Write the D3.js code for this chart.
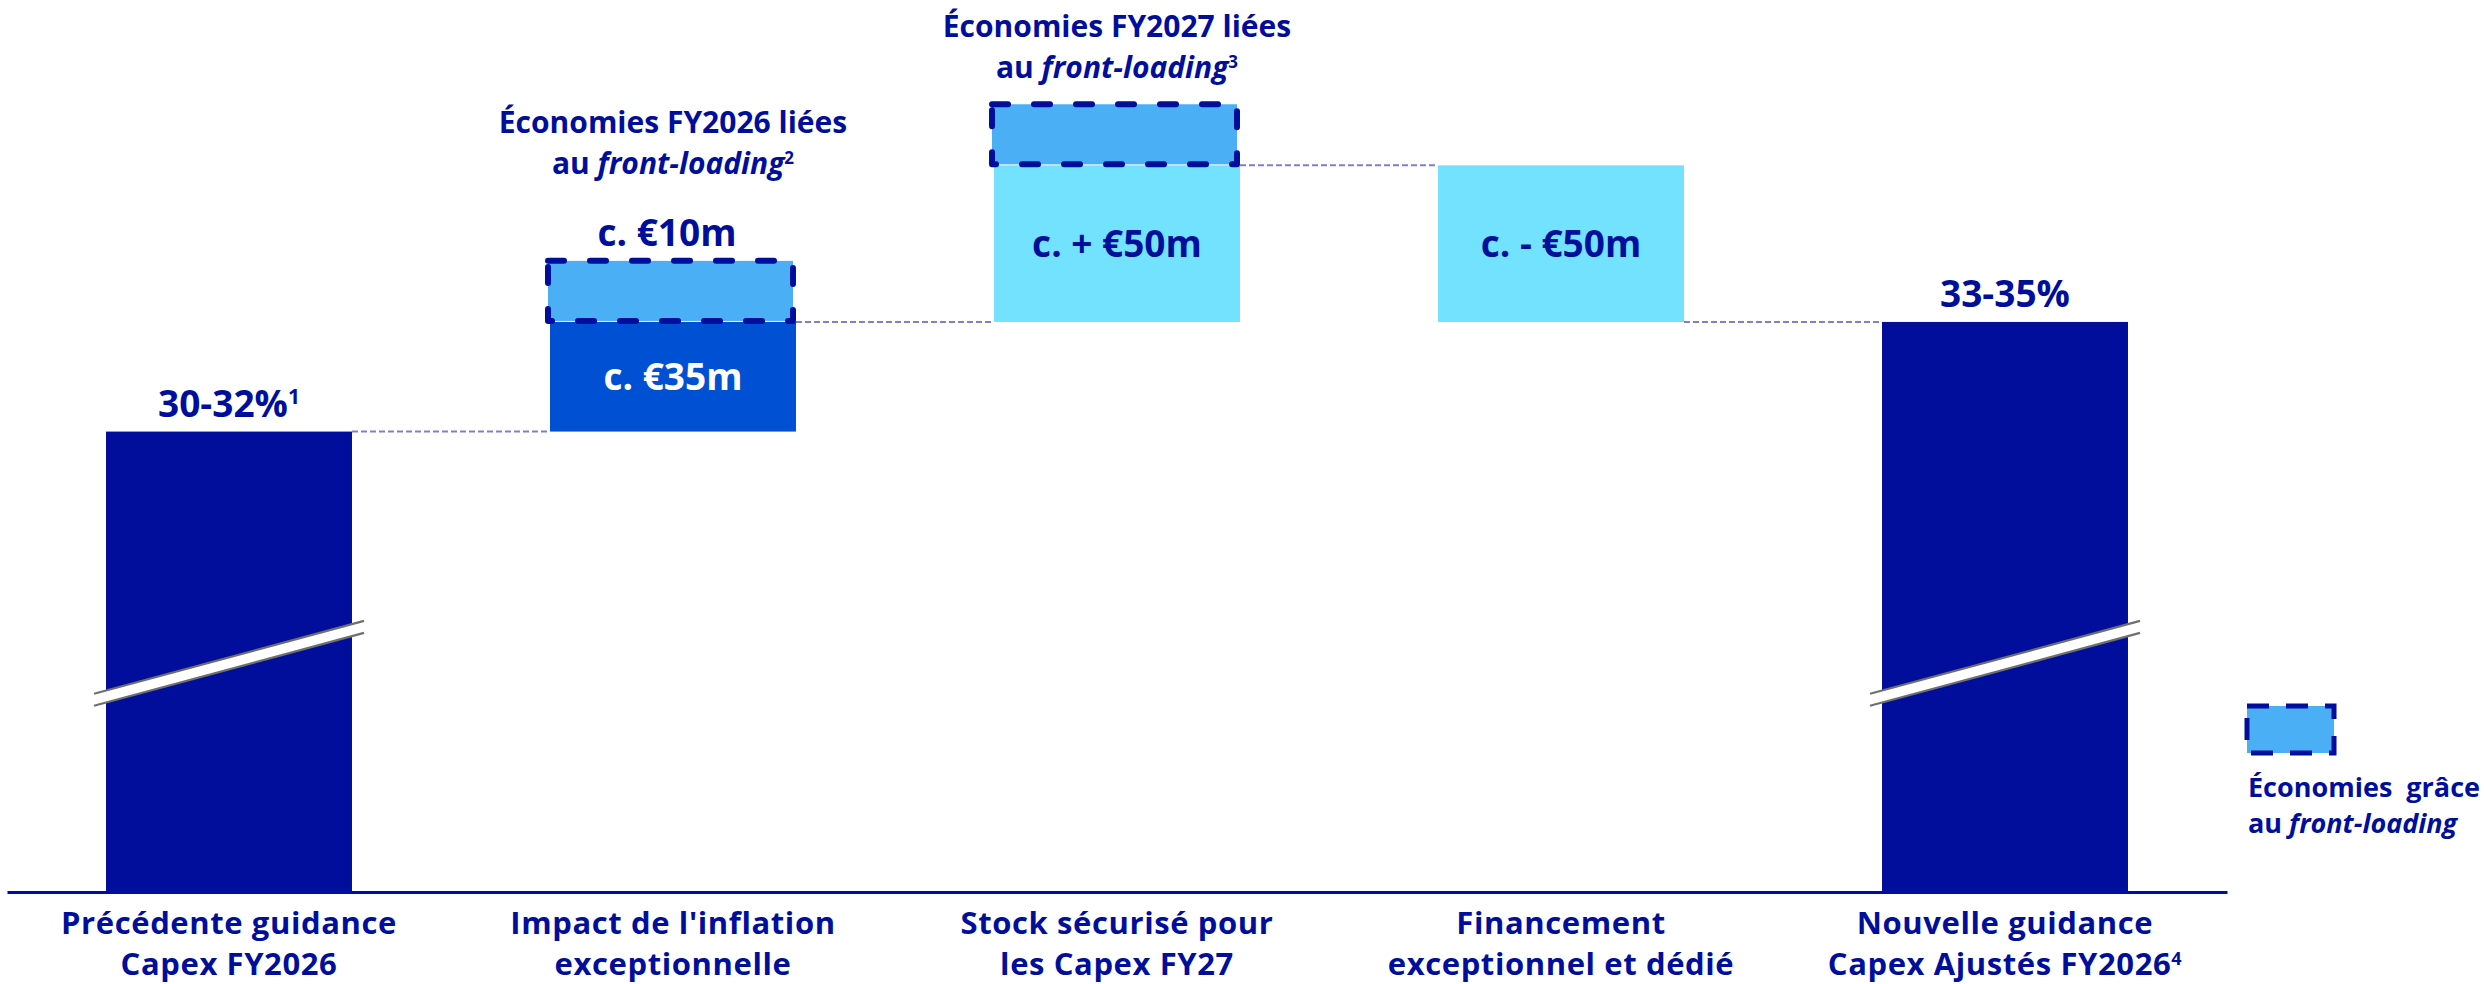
<!DOCTYPE html>
<html>
<head>
<meta charset="utf-8">
<script src="https://cdn.jsdelivr.net/npm/d3@7"></script>
<style>
  html, body { margin: 0; padding: 0; background: #ffffff; }
  svg { display: block; }
  text { font-family: "Open Sans", "Noto Sans", sans-serif; font-weight: 700; white-space: pre; }
</style>
</head>
<body>
<svg id="chart"></svg>
<script>
// ---------------- DATA ----------------
const categories = ["prev", "inflation", "stock", "financing", "new"];
const categoryLines = [
  [[{t: "Précédente guidance"}], [{t: "Capex FY2026"}]],
  [[{t: "Impact de l'inflation"}], [{t: "exceptionnelle"}]],
  [[{t: "Stock sécurisé pour"}], [{t: "les Capex FY27"}]],
  [[{t: "Financement"}], [{t: "exceptionnel et dédié"}]],
  [[{t: "Nouvelle guidance"}], [{t: "Capex Ajustés FY2026"}, {t: "4", s: true}]]
];
const stepTypes = ["total", "delta", "delta", "delta", "total"];
// displayed heights (broken axis; €m-equivalent units)
const stepValues = [147, 35, 50, -50, 182];
const breakValue = 73; // level of the axis-break marks on the total bars
const valueLabels = [
  [{t: "30-32%"}, {t: "1", s: true}],
  [{t: "c. €35m"}],
  [{t: "c. + €50m"}],
  [{t: "c. - €50m"}],
  [{t: "33-35%"}]
];

const savingsCategories = ["inflation", "stock"];
const savingsValues = [19.5, 19.5];
const savingsLabels = ["c. €10m", ""];
const savingsTitles = [
  [[{t: "Économies FY2026 liées"}], [{t: "au "}, {t: "front-loading", i: true}, {t: "2", s: true}]],
  [[{t: "Économies FY2027 liées"}], [{t: "au "}, {t: "front-loading", i: true}, {t: "3", s: true}]]
];
const legendLines = [
  [{t: "Économies  grâce"}],
  [{t: "au "}, {t: "front-loading", i: true}]
];

// ---------------- STYLE ----------------
const W = 2484, H = 984;
const NAVY = "#000F9B", MID = "#0050D4", CYAN = "#73E2FF", SAVE = "#4AAFF5", CONN = "#7E7ED2";
const barColors = [NAVY, MID, CYAN, CYAN, NAVY];
const innerTextColors = [NAVY, "#ffffff", NAVY, NAVY, NAVY];
const VAL_FS = 37, AX_FS = 31, TITLE_FS = 30, LEG_FS = 27;

const svg = d3.select("#chart").attr("width", W).attr("height", H);

const x = d3.scaleBand().domain(categories).range([7, 2227])
  .paddingInner(0.446).paddingOuter(0.223);
const y = d3.scaleLinear().domain([0, 280]).range([892, 15]);
const bw = x.bandwidth();

// compute waterfall
let cum = 0;
const bars = categories.map((c, i) => {
  let a, b;
  if (stepTypes[i] === "total") { a = 0; b = stepValues[i]; cum = stepValues[i]; }
  else { a = cum; b = cum + stepValues[i]; cum = b; }
  return {cat: c, i, lo: Math.min(a, b), hi: Math.max(a, b), end: cum, type: stepTypes[i]};
});

// rich text helpers
function rich(sel, segs, size) {
  segs.forEach(s => {
    const ts = sel.append("tspan").text(s.t);
    if (s.i) ts.attr("font-style", "italic");
    if (s.s) ts.attr("font-size", Math.round(size * 0.58)).attr("dy", -size * 0.33);
  });
  return sel;
}
// multi-line text in one text element (lines as tspans)
function multiline(sel, lines, size, x0, lineH) {
  let shift = 0;
  lines.forEach((segs, li) => {
    segs.forEach((s, si) => {
      const ts = sel.append("tspan").text(s.t);
      if (si === 0) {
        ts.attr("x", x0);
        if (li > 0) ts.attr("dy", lineH - shift);
        shift = 0;
      }
      if (s.i) ts.attr("font-style", "italic");
      if (s.s) {
        ts.attr("font-size", Math.round(size * 0.58)).attr("dy", -size * 0.33);
        shift = -size * 0.33;
      }
    });
  });
  return sel;
}

// connectors
const conn = svg.append("g");
bars.slice(0, -1).forEach((d, k) => {
  const nxt = bars[k + 1];
  conn.append("line")
    .attr("x1", x(d.cat) + bw).attr("x2", x(nxt.cat))
    .attr("y1", y(d.end)).attr("y2", y(d.end))
    .attr("stroke", CONN).attr("stroke-width", 2).attr("stroke-dasharray", "6,3");
});

// bars
svg.append("g").selectAll("rect").data(bars).join("rect")
  .attr("x", d => x(d.cat)).attr("width", bw)
  .attr("y", d => y(d.hi)).attr("height", d => y(d.lo) - y(d.hi))
  .attr("fill", d => barColors[d.i]);

// axis breaks on totals
const brk = svg.append("g");
bars.filter(d => d.type === "total").forEach(d => {
  const L = x(d.cat) - 12, R = x(d.cat) + bw + 12;
  const rise = 0.27 * (R - L) / 2;
  const cy = y(breakValue);
  brk.append("polygon")
    .attr("points", [[L, cy + rise - 6], [R, cy - rise - 6], [R, cy - rise + 6], [L, cy + rise + 6]].map(p => p.join(",")).join(" "))
    .attr("fill", "#ffffff");
  [-6, 6].forEach(o => {
    brk.append("line")
      .attr("x1", L).attr("y1", cy + rise + o).attr("x2", R).attr("y2", cy - rise + o)
      .attr("stroke", "#6f6f6f").attr("stroke-width", 2.2);
  });
});

// savings boxes
savingsCategories.forEach((c, k) => {
  const b = bars.find(d => d.cat === c);
  const x0 = x(c), top = y(b.hi + savingsValues[k]), bot = y(b.hi) - 1;
  svg.append("rect")
    .attr("x", x0 - 2).attr("y", top).attr("width", bw - 1).attr("height", bot - top)
    .attr("fill", SAVE).attr("stroke", NAVY).attr("stroke-width", 6)
    .attr("stroke-dasharray", "16,26").attr("stroke-linecap", "round").attr("stroke-linejoin", "round");
  const cx = x0 + bw / 2;
  let line2Base;
  if (savingsLabels[k]) {
    svg.append("text").attr("x", cx - 6).attr("y", top - 15).attr("text-anchor", "middle")
      .attr("font-size", VAL_FS).attr("fill", NAVY).text(savingsLabels[k]);
    line2Base = top - 87;
  } else {
    line2Base = top - 26;
  }
  multiline(svg.append("text").attr("x", cx).attr("y", line2Base - 41).attr("text-anchor", "middle")
    .attr("font-size", TITLE_FS).attr("fill", NAVY), savingsTitles[k], TITLE_FS, cx, 41);
});

// value labels
bars.forEach(d => {
  const cx = x(d.cat) + bw / 2;
  if (d.type === "total") {
    rich(svg.append("text").attr("x", cx).attr("y", y(d.hi) - 15).attr("text-anchor", "middle")
      .attr("font-size", VAL_FS).attr("fill", NAVY), valueLabels[d.i], VAL_FS);
  } else {
    const mid = (y(d.hi) + y(d.lo)) / 2;
    rich(svg.append("text").attr("x", cx).attr("y", mid + 13).attr("text-anchor", "middle")
      .attr("font-size", VAL_FS).attr("fill", innerTextColors[d.i]), valueLabels[d.i], VAL_FS);
  }
});

// x axis
const axis = svg.append("g").attr("transform", `translate(0,${y(0)})`)
  .call(d3.axisBottom(x).tickSize(0).tickFormat(""));
axis.select(".domain").attr("stroke", NAVY).attr("stroke-width", 3);
axis.selectAll(".tick").each(function(c) {
  const i = categories.indexOf(c);
  const g = d3.select(this);
  g.select("text").remove();
  multiline(g.append("text").attr("x", 0).attr("y", 42).attr("text-anchor", "middle")
    .attr("letter-spacing", 0.6)
    .attr("font-size", AX_FS).attr("fill", NAVY), categoryLines[i], AX_FS, 0, 41);
});

// legend
const lg = svg.append("g");
lg.append("rect").attr("x", 2247).attr("y", 706).attr("width", 87).attr("height", 47)
  .attr("fill", SAVE).attr("stroke", NAVY).attr("stroke-width", 5)
  .attr("stroke-dasharray", "22,17");
multiline(lg.append("text").attr("x", 2248).attr("y", 797)
  .attr("font-size", LEG_FS).attr("fill", NAVY), legendLines, LEG_FS, 2248, 36);
</script>
</body>
</html>
